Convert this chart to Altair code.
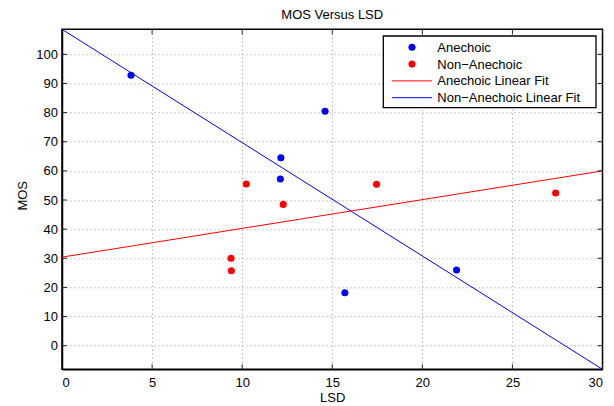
import altair as alt
import pandas as pd

# ---- data ----
anechoic_lsd = [3.83, 14.6, 12.15, 12.12, 15.7, 21.9]
anechoic_mos = [92.8, 80.5, 64.5, 57.2, 18.2, 26.0]
non_anechoic_lsd = [10.23, 12.28, 9.38, 9.40, 17.46, 27.4]
non_anechoic_mos = [55.5, 48.5, 30.0, 25.7, 55.4, 52.4]
fit_lsd = [0, 30]
anechoic_fit_mos = [30.4, 60.0]
non_anechoic_fit_mos = [108.6, -8.1]
series_names = ["Anechoic", "Non\u2212Anechoic", "Anechoic Linear Fit", "Non\u2212Anechoic Linear Fit"]
series_kinds = ["marker", "marker", "line", "line"]
series_colors = ["#0000ff", "#ff0000", "#ff0000", "#0000ff"]
x_ticks = [0, 5, 10, 15, 20, 25, 30]
y_ticks = [0, 10, 20, 30, 40, 50, 60, 70, 80, 90, 100]
x_domain = [0, 30]
y_domain = [-8.1, 108.6]

W, H = 540.5, 340
FONT = "Liberation Sans, Arial, Helvetica, sans-serif"

pts = pd.DataFrame({
    "LSD": anechoic_lsd + non_anechoic_lsd,
    "MOS": anechoic_mos + non_anechoic_mos,
    "series": [series_names[0]] * len(anechoic_lsd) + [series_names[1]] * len(non_anechoic_lsd),
})
lines = pd.DataFrame({
    "LSD": fit_lsd + fit_lsd,
    "MOS": anechoic_fit_mos + non_anechoic_fit_mos,
    "series": [series_names[2]] * 2 + [series_names[3]] * 2,
})
xt = pd.DataFrame({"LSD": x_ticks})
yt = pd.DataFrame({"MOS": y_ticks})
leg_df = pd.DataFrame({"series": series_names, "kind": series_kinds})
box_df = pd.DataFrame({"box": [1]})

xs = alt.Scale(domain=x_domain, nice=False, zero=False)
ys = alt.Scale(domain=y_domain, nice=False, zero=False)
cs = alt.Scale(domain=series_names, range=series_colors)

x_axis = alt.Axis(values=x_ticks, title="LSD", tickSize=0, labelPadding=7,
                  titleX=W / 2, titleY=32.5, titleBaseline="alphabetic", titleAlign="center")
y_axis = alt.Axis(values=y_ticks, title="MOS", tickSize=0, labelPadding=4.5,
                  titleX=-36, titleY=166, titleBaseline="alphabetic", titleAlign="center")

X = alt.X("LSD:Q", scale=xs, axis=x_axis)
Y = alt.Y("MOS:Q", scale=ys, axis=y_axis)
C = alt.Color("series:N", scale=cs, legend=None)

fit_lines = alt.Chart(lines).mark_line(strokeWidth=1, clip=True).encode(
    x=X, y=Y, color=C, detail="series:N",
)

points = alt.Chart(pts).mark_point(filled=True, size=50, opacity=1).encode(
    x=X, y=Y, color=C,
)

tick_color = "#222222"
bottom_ticks = alt.Chart(xt).mark_rule(color=tick_color).encode(
    x=X, y=alt.value(H - 5), y2=alt.value(H))
top_ticks = alt.Chart(xt).mark_rule(color=tick_color).encode(
    x=X, y=alt.value(0), y2=alt.value(5))
left_ticks = alt.Chart(yt).mark_rule(color=tick_color).encode(
    y=Y, x=alt.value(0), x2=alt.value(5))
right_ticks = alt.Chart(yt).mark_rule(color=tick_color).encode(
    y=Y, x=alt.value(W - 5), x2=alt.value(W))

main = alt.layer(fit_lines, points, bottom_ticks, top_ticks, left_ticks, right_ticks)

# ---- legend (box at top-right of the plot) ----
LX0, LX1, LY0, LY1 = W - 219.2, W - 6.5, 6.7, 78.4
row_scale = alt.Scale(domain=series_names, type="point", range=[18.0, 68.4], padding=0)
LY = alt.Y("series:N", scale=row_scale, axis=None)

leg_box = alt.Chart(box_df).mark_rect(fill="white", stroke="black", strokeWidth=1.3).encode(
    x=alt.value(LX0), x2=alt.value(LX1), y=alt.value(LY0), y2=alt.value(LY1))
leg_markers = alt.Chart(leg_df).transform_filter(alt.datum.kind == "marker").mark_point(
    filled=True, size=50, opacity=1).encode(x=alt.value(LX0 + 28.7), y=LY, color=C)
leg_lines = alt.Chart(leg_df).transform_filter(alt.datum.kind == "line").mark_rule(
    strokeWidth=1).encode(x=alt.value(LX0 + 8.7), x2=alt.value(LX0 + 48.7), y=LY, color=C)
leg_text = alt.Chart(leg_df).mark_text(
    align="left", baseline="middle", font=FONT, fontSize=13, color="black", dy=0.5
).encode(x=alt.value(LX0 + 54), y=LY, text="series:N")

legend = alt.layer(leg_box, leg_markers, leg_lines, leg_text)

chart = alt.layer(main, legend).resolve_scale(y="independent").properties(
    width=W, height=H,
    title=alt.TitleParams("MOS Versus LSD", fontSize=13, fontWeight="normal", font=FONT,
                          color="black", offset=7),
    autosize=alt.AutoSizeParams(type="none"),
    padding={"left": 54, "top": 21.3, "right": 3.5, "bottom": 36.7},
).configure_view(
    stroke="black", strokeWidth=1.5
).configure_axis(
    labelFont=FONT, labelFontSize=13, labelColor="black",
    titleFont=FONT, titleFontSize=13, titleColor="black", titleFontWeight="normal",
    domainColor="black", domainWidth=1.5,
    gridColor="#999999", gridDash=[1, 3], gridWidth=1, gridOpacity=1,
)

chart.save("out.html", embed_options={"renderer": "svg", "actions": False})
